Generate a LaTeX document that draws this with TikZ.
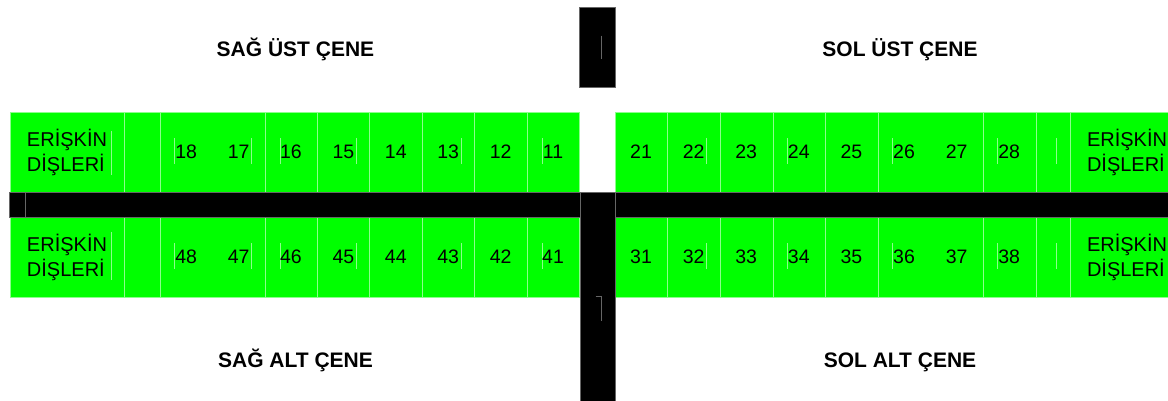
\documentclass[tikz,border=0pt]{standalone}
\usepackage{fontspec}
\setmainfont{Liberation Sans}
\usetikzlibrary{positioning}
\definecolor{gumgreen}{HTML}{00FF00}
\colorlet{cellline}{gumgreen!45!white}
\colorlet{barline}{black!60}
\begin{document}
\begin{tikzpicture}[x=1pt,y=-1pt,
  band/.style={fill=gumgreen,draw=cellline,line width=0.6pt},
  bar/.style={fill=black,draw=barline,line width=0.8pt},
  num/.style={font=\fontsize{19.5}{23}\selectfont,inner sep=0pt},
  lbl/.style={font=\fontsize{20}{25}\selectfont,align=left,inner sep=0pt},
  ttl/.style={font=\fontsize{21}{25}\selectfont\bfseries,inner sep=0pt,anchor=base}]
\useasboundingbox (0,0) rectangle (1168,400);
% green rows
\draw[band] (10.5,112) rectangle (579.5,192);
\draw[band] (10.5,217) rectangle (579.5,297);
\draw[band] (615,112) rectangle (1169,192);
\draw[band] (615,217) rectangle (1169,297);
\foreach \x in {124,160,265,317,369,422,474,527,667,720,773,825,878,983,1036,1070}
  {\draw[cellline,line width=0.6pt] (\x,112) -- (\x,192) (\x,217) -- (\x,297);}
% faint text box edges
\foreach \x in {174.7,251,280,356,461.7,542.3,706,787.7,892.7,997.3,1056.7}
  {\draw[cellline,line width=0.5pt] (\x,138) -- (\x,164) (\x,243) -- (\x,269);}
\draw[cellline,line width=0.5pt] (111,131) -- (111,175) (111,232) -- (111,280);
% black cross
\draw[bar] (9,192) rectangle (1169,217);
\draw[bar] (9,192) rectangle (25.3,217);
\draw[bar] (580,192) rectangle (615,401);
\fill (581,193) rectangle (614,216);
\draw[bar] (579,7) rectangle (615.7,87.5);
\draw[barline,line width=0.5pt] (601.7,35.7) -- (601.7,59.3);
\draw[barline,line width=0.5pt] (595.7,296) -- (601,296) -- (601,321);
% titles
\node[ttl] (sagust) at (295.5,56) {SAĞ ÜST ÇENE};
\node[ttl] (solust) at (900,56) {SOL ÜST ÇENE};
\node[ttl] (sagalt) at (295.5,367) {SAĞ ALT ÇENE};
\node[ttl] (solalt) at (900,367) {SOL ALT ÇENE};
% row labels
\node[lbl] (erisk1) at (67,152) {ERİŞKİN\\DİŞLERİ};
\node[lbl] (erisk4) at (67,257) {ERİŞKİN\\DİŞLERİ};
\node[lbl] (erisk2) at (1127,152) {ERİŞKİN\\DİŞLERİ};
\node[lbl] (erisk3) at (1127,257) {ERİŞKİN\\DİŞLERİ};
% tooth numbers
\foreach \n in {11,...,18}
  {\node[num] (t\n) at ({553-52.4*(\n-11)},152) {\n};}
\foreach \n in {41,...,48}
  {\node[num] (t\n) at ({553-52.4*(\n-41)},257) {\n};}
\foreach \n in {21,...,28}
  {\node[num] (t\n) at ({641+52.6*(\n-21)},152) {\n};}
\foreach \n in {31,...,38}
  {\node[num] (t\n) at ({641+52.6*(\n-31)},257) {\n};}
\end{tikzpicture}
\end{document}
